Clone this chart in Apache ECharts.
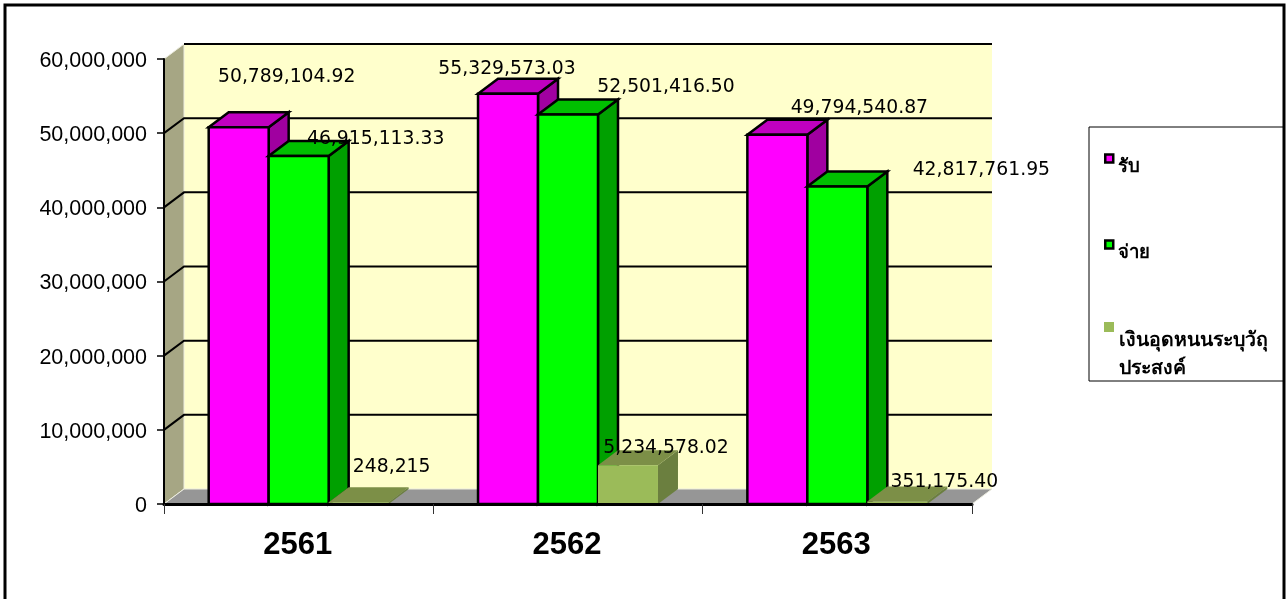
<!DOCTYPE html>
<html>
<head>
<meta charset="utf-8">
<style>html,body{margin:0;padding:0;background:#fff;overflow:hidden}#c{width:1287px;height:599px}</style>
<script src="https://cdn.jsdelivr.net/npm/echarts@6/dist/echarts.min.js"></script>
</head>
<body>
<div id="c"></div>
<script>
const categories = ['2561', '2562', '2563'];
const seriesNames = ['รับ', 'จ่าย', 'เงินอุดหนนระบุวัถุ\nประสงค์'];
const income = [50789104.92, 55329573.03, 49794540.87];
const expense = [46915113.33, 52501416.50, 42817761.95];
const subsidy = [248215, 5234578.02, 351175.40];
const incomeLabels = ['50,789,104.92', '55,329,573.03', '49,794,540.87'];
const expenseLabels = ['46,915,113.33', '52,501,416.50', '42,817,761.95'];
const subsidyLabels = ['248,215', '5,234,578.02', '351,175.40'];
const yTicks = [0, 10000000, 20000000, 30000000, 40000000, 50000000, 60000000];

const DX = 20, DY = -15;
const palettes = [
  {front:'#FF00FF', top:'#C000C0', side:'#A000A0', stroke:'#000', sw:2.5},
  {front:'#00FF00', top:'#00C000', side:'#00A000', stroke:'#000', sw:2.5},
  {front:'#9BBB59', top:'#7C8F47', side:'#6B7F3F', stroke:null, sw:0}
];
// hand-placed label offsets from the bar's top centre, as in the source chart
const labelNudge = [
  [[48,-50],[-1,-25],[82,-27]],
  [[77,-17],[98,-27],[144,-16]],
  [[33,-35],[38,-17],[47,-19]]
];
const labelTexts = [incomeLabels, expenseLabels, subsidyLabels];

function poly(points, fill, stroke, sw, z2){
  return {type:'polygon', shape:{points}, z2:z2||0,
    style:{fill, stroke:stroke||null, lineWidth:sw||0, lineJoin:'miter'}};
}
function barRender(si){
  return function(params, api){
    const idx = api.value(0), val = api.value(1);
    const p = api.coord([idx, val]), b = api.coord([idx, 0]);
    const band = api.size([1,0])[0];
    const w = band / 4.49;
    const x0 = p[0] - 1.5*w + si*w, x1 = x0 + w;
    const yt = p[1], yb = b[1];
    const c = palettes[si];
    const base = 10 + si*3;
    const children = [
      poly([[x1,yt],[x1+DX,yt+DY],[x1+DX,yb+DY],[x1,yb]], c.side, c.stroke, c.sw, base+1),
      poly([[x0,yt],[x0+DX,yt+DY],[x1+DX,yt+DY],[x1,yt]], c.top, c.stroke, c.sw, base+2),
      poly([[x0,yt],[x1,yt],[x1,yb],[x0,yb]], c.front, c.stroke, c.sw, base+3)
    ];
    const n = labelNudge[si][idx];
    children.push({type:'text', z2:100, style:{
      text: labelTexts[si][idx], x:(x0+x1)/2+n[0], y:yt+n[1],
      align:'center', verticalAlign:'middle',
      font:'18.8px "DejaVu Sans"', fill:'#000'
    }});
    return {type:'group', children};
  };
}
function wallRender(params, api){
  const cs = params.coordSys;
  const L = cs.x, R = cs.x+cs.width, T = cs.y, B = cs.y+cs.height;
  return {type:'group', children:[
    poly([[L+DX,T+DY],[R+DX,T+DY],[R+DX,B+DY],[L+DX,B+DY]], '#FFFFCC'),
    poly([[L,T],[L+DX,T+DY],[L+DX,B+DY],[L,B]], '#A6A684', '#EDEDE0', 1),
    poly([[L,B],[L+DX,B+DY],[R+DX,B+DY],[R,B]], '#969696', '#EDEDE0', 1)
  ]};
}
function gridLineRender(params, api){
  const v = api.value(1);
  if (v === 0) return null;
  const cs = params.coordSys;
  const p = api.coord([0, v]);
  const L = cs.x, R = cs.x+cs.width, y = p[1];
  const isTop = Math.abs(y - cs.y) < 0.5;
  const pts = isTop ? [[L+DX,y+DY],[R+DX,y+DY]] : [[L,y],[L+DX,y+DY],[R+DX,y+DY]];
  return {type:'polyline', z2:5, shape:{points:pts},
    style:{fill:null, stroke:'#000', lineWidth:2}};
}
function seriesBar(si, values){
  return {type:'custom', name:seriesNames[si], renderItem:barRender(si), clip:false,
    itemStyle:{color:palettes[si].front},
    data:values.map((v,i)=>[i,v]), encode:{x:0,y:1}};
}
const legendFont = 'Tahoma, "DejaVu Sans", "Noto Sans", sans-serif';

const chart = echarts.init(document.getElementById('c'), null, {renderer:'canvas'});
chart.setOption({
  animation:false,
  backgroundColor:'#fff',
  grid:{left:164, top:59, width:808, height:445, containLabel:false},
  xAxis:{type:'category', data:categories, z:6,
    axisLine:{lineStyle:{color:'#000', width:3}},
    axisTick:{show:true, length:10, alignWithLabel:false, lineStyle:{color:'#333', width:1}},
    axisLabel:{margin:26, color:'#000', fontFamily:'Liberation Sans', fontWeight:'bold', fontSize:31, padding:[0,2,0,0]}},
  yAxis:{type:'value', min:0, max:60000000, interval:10000000, z:6,
    axisLine:{show:true, lineStyle:{color:'#000', width:2}},
    axisTick:{show:true, length:7, lineStyle:{color:'#000', width:1.5}},
    splitLine:{show:false},
    axisLabel:{margin:17, color:'#000', fontFamily:'Liberation Sans', fontSize:21.5,
      verticalAlign:'top', lineHeight:4,
      formatter:v=>v.toLocaleString('en-US')}},
  legend:[
    {orient:'vertical', left:1104, top:140, itemGap:49, itemWidth:8, itemHeight:8,
     icon:'rect', selectedMode:false, padding:0,
     formatter:name=>'\n'+name,
     textStyle:{color:'#000', fontSize:18.5, fontWeight:'bold', lineHeight:18, fontFamily:legendFont},
     data:[
       {name:seriesNames[0], itemStyle:{color:palettes[0].front, borderColor:'#000', borderWidth:2.5}},
       {name:seriesNames[1], itemStyle:{color:palettes[1].front, borderColor:'#000', borderWidth:2.5}}
     ]},
    {orient:'vertical', left:1104, top:271, itemWidth:10, itemHeight:10,
     icon:'rect', selectedMode:false, padding:0,
     formatter:name=>'\n\n'+name,
     textStyle:{color:'#000', fontSize:19.5, fontWeight:'bold', lineHeight:28, fontFamily:legendFont},
     data:[
       {name:seriesNames[2], itemStyle:{color:palettes[2].front, borderWidth:0}}
     ]}
  ],
  graphic:[
    {type:'rect', shape:{x:5,y:5,width:1279,height:610}, style:{fill:null, stroke:'#000', lineWidth:3}, silent:true, z:100},
    {type:'rect', shape:{x:1089,y:127,width:195,height:254}, style:{fill:'#fff', stroke:'#000', lineWidth:1}, silent:true, z:1}
  ],
  series:[
    {type:'custom', name:'wall', renderItem:wallRender, clip:false, data:[[0,0]], encode:{x:0,y:1}, silent:true},
    {type:'custom', name:'grid', renderItem:gridLineRender, clip:false, data:yTicks.map(v=>[0,v]), encode:{x:0,y:1}, silent:true},
    seriesBar(0, income),
    seriesBar(1, expense),
    seriesBar(2, subsidy)
  ]
});
</script>
</body>
</html>
